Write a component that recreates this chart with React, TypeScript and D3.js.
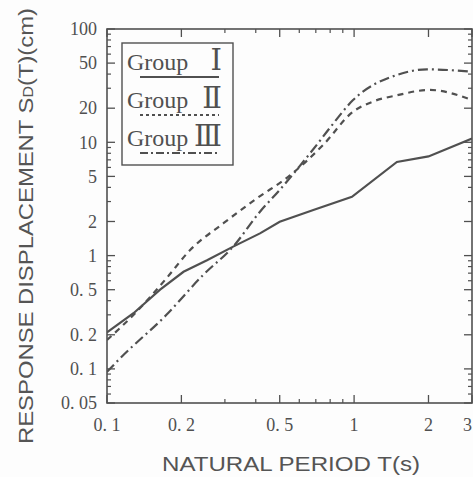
import React from "react";
import * as d3 from "d3";

const W = 473;
const H = 477;

const xTickValues = [0.1, 0.2, 0.5, 1, 2, 3];
const xTickLabels = ["0. 1", "0. 2", "0. 5", "1", "2", "3"];
const xMinorValues = [0.3, 0.4, 0.6, 0.7, 0.8, 0.9];

const yTickValues = [0.05, 0.1, 0.2, 0.5, 1, 2, 5, 10, 20, 50, 100];
const yTickLabels = ["0. 05", "0. 1", "0. 2", "0. 5", "1", "2", "5", "10", "20", "50", "100"];
const yMinorValues = [0.06, 0.07, 0.08, 0.09, 0.3, 0.4, 0.6, 0.7, 0.8, 0.9, 3, 4, 6, 7, 8, 9, 30, 40, 60, 70, 80, 90];

const group1T = [0.1, 0.128, 0.164, 0.204, 0.254, 0.324, 0.416, 0.5, 0.684, 0.98, 1.49, 2.0, 3.0];
const group1SD = [0.21, 0.31, 0.5, 0.72, 0.91, 1.2, 1.57, 1.99, 2.53, 3.3, 6.7, 7.5, 10.8];

const group2T = [0.1, 0.13, 0.174, 0.217, 0.296, 0.404, 0.55, 0.75, 0.99, 1.2, 1.49, 2.02, 3.0];
const group2SD = [0.18, 0.31, 0.63, 1.12, 1.93, 3.2, 5.1, 9.5, 18.6, 23, 26, 29, 23.6];

const group3T = [0.1, 0.113, 0.174, 0.245, 0.324, 0.416, 0.5, 0.6, 0.706, 0.8, 0.99, 1.49, 1.97, 3.0];
const group3SD = [0.094, 0.124, 0.3, 0.675, 1.2, 2.44, 3.8, 6.1, 9.5, 13.5, 23.6, 39.3, 44, 42];

const groupNames = ["Group", "Group", "Group"];
const groupNumerals = ["Ⅰ", "Ⅱ", "Ⅲ"];

const INK = "#505050";

export default function App() {
  const left = 107, right = 472, top = 29, bottom = 403;
  const x = d3.scaleLog().domain([0.1, 3]).range([left, right]);
  const y = d3.scaleLog().domain([0.05, 100]).range([bottom, top]);

  const mk = (ts: number[], vs: number[]) => ts.map((t, i) => [t, vs[i]] as [number, number]);
  const lineLin = d3.line<[number, number]>().x((d) => x(d[0])).y((d) => y(d[1]));
  const lineSmooth = d3
    .line<[number, number]>()
    .x((d) => x(d[0]))
    .y((d) => y(d[1]))
    .curve(d3.curveMonotoneX);

  const series = [
    { d: lineLin(mk(group1T, group1SD)), dash: undefined as string | undefined },
    { d: lineSmooth(mk(group2T, group2SD)), dash: "6 5" },
    { d: lineSmooth(mk(group3T, group3SD)), dash: "10 4 2 4" },
  ];

  const serif = "'Liberation Serif', 'DejaVu Serif', serif";
  const sans = "'Liberation Sans', Arial, sans-serif";

  const legendRows = [70, 108, 146];
  const legendDash = [undefined, "3 3", "8 3 2 3"];

  return (
    <svg
      width={W}
      height={H}
      style={{ position: "absolute", left: 0, top: 0, background: "#fdfdfd" }}
    >
      <defs>
        <clipPath id="plot">
          <rect x={left} y={top} width={right - left} height={bottom - top} />
        </clipPath>
      </defs>

      {yMinorValues.map((v) => (
        <g key={"ym" + v} stroke={INK} strokeWidth={1.2}>
          <line x1={left} x2={left + 4} y1={y(v)} y2={y(v)} />
          <line x1={right} x2={right - 4} y1={y(v)} y2={y(v)} />
        </g>
      ))}
      {yTickValues.map((v) => (
        <g key={"yM" + v} stroke={INK} strokeWidth={1.3}>
          <line x1={left} x2={left + 8} y1={y(v)} y2={y(v)} />
          <line x1={right} x2={right - 8} y1={y(v)} y2={y(v)} />
        </g>
      ))}
      {xMinorValues.map((v) => (
        <g key={"xm" + v} stroke={INK} strokeWidth={1.2}>
          <line x1={x(v)} x2={x(v)} y1={bottom} y2={bottom - 4} />
          <line x1={x(v)} x2={x(v)} y1={top} y2={top + 4} />
        </g>
      ))}
      {xTickValues.map((v) => (
        <g key={"xM" + v} stroke={INK} strokeWidth={1.3}>
          <line x1={x(v)} x2={x(v)} y1={bottom} y2={bottom - 8} />
          <line x1={x(v)} x2={x(v)} y1={top} y2={top + 8} />
        </g>
      ))}

      <rect
        x={left}
        y={top}
        width={right - left}
        height={bottom - top}
        fill="none"
        stroke={INK}
        strokeWidth={1.6}
      />

      {yTickValues.map((v, i) => (
        <text
          key={"yl" + v}
          x={97}
          y={y(v)}
          dy="0.35em"
          textAnchor="end"
          fontFamily={serif}
          fontSize={18}
          fill={INK}
        >
          {yTickLabels[i]}
        </text>
      ))}
      {xTickValues.map((v, i) => {
        const last = i === xTickValues.length - 1;
        return (
          <text
            key={"xl" + v}
            x={last ? 472 : x(v)}
            y={431}
            textAnchor={last ? "end" : "middle"}
            fontFamily={serif}
            fontSize={18}
            fill={INK}
          >
            {xTickLabels[i]}
          </text>
        );
      })}

      <g clipPath="url(#plot)" fill="none" stroke={INK} strokeWidth={2.2}>
        {series.map((s, i) => (
          <path key={i} d={s.d || ""} strokeDasharray={s.dash} />
        ))}
      </g>

      <rect x={122} y={43} width={111} height={122} fill="#fdfdfd" stroke={INK} strokeWidth={1.4} />
      {legendRows.map((yy, i) => (
        <g key={"lg" + i}>
          <text x={127} y={yy} fontFamily={serif} fontSize={24} fill={INK}>
            {groupNames[i]}
          </text>
          <text x={222} y={yy} textAnchor="end" fontFamily={serif} fontSize={29} fill={INK}>
            {groupNumerals[i]}
          </text>
          <line
            x1={140}
            x2={219}
            y1={yy + 7}
            y2={yy + 7}
            stroke={INK}
            strokeWidth={2}
            strokeDasharray={legendDash[i]}
          />
        </g>
      ))}

      <text
        x={291}
        y={471}
        textAnchor="middle"
        fontFamily={sans}
        fontSize={21}
        fill="#555"
        textLength={258}
        lengthAdjust="spacingAndGlyphs"
      >
        NATURAL PERIOD T(s)
      </text>
      <text
        transform="translate(33,226) rotate(-90)"
        textAnchor="middle"
        fontFamily={sans}
        fontSize={21}
        fill="#555"
        textLength={436}
        lengthAdjust="spacingAndGlyphs"
      >
        RESPONSE DISPLACEMENT S<tspan fontSize={14}>D</tspan>(T)(cm)
      </text>
    </svg>
  );
}
